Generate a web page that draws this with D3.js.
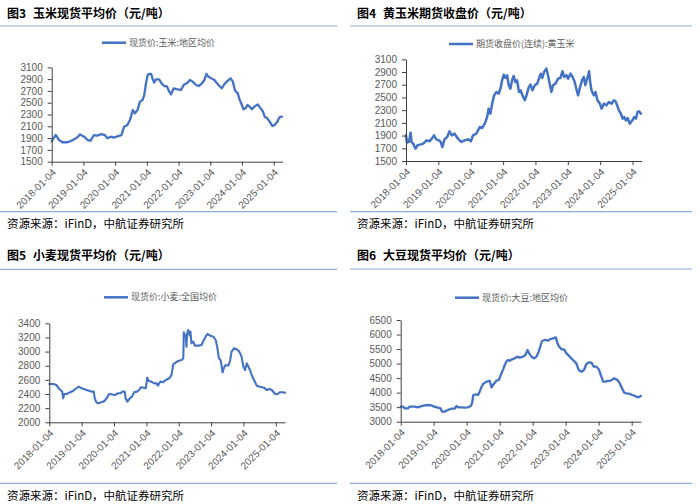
<!DOCTYPE html>
<html><head><meta charset="utf-8">
<script src="https://cdn.jsdelivr.net/npm/d3@7"></script>
<style>body{margin:0;background:#fff}svg{display:block}</style>
</head><body>
<svg id="c" width="700" height="504"></svg>
<script>
// ---------- DATA ----------
const xTickLabels = ["2018-01-04","2019-01-04","2020-01-04","2021-01-04","2022-01-04","2023-01-04","2024-01-04","2025-01-04"];
const xDomain = ["2018-01-04","2025-04-17"];

const cornSpotTicks = [1500,1700,1900,2100,2300,2500,2700,2900,3100];
const cornFutTicks = [1500,1700,1900,2100,2300,2500,2700,2900,3100];
const wheatTicks = [2000,2200,2400,2600,2800,3000,3200,3400];
const soyTicks = [3000,3500,4000,4500,5000,5500,6000,6500];

const cornSpotDates = ["2018-01-04","2018-01-12","2018-02-20","2018-03-28","2018-05-06","2018-07-03","2018-08-11","2018-09-19","2018-10-27","2018-11-27","2019-01-13","2019-02-21","2019-03-28","2019-05-06","2019-06-14","2019-07-30","2019-09-07","2019-10-07","2019-11-16","2019-12-24","2020-02-09","2020-03-17","2020-04-17","2020-05-25","2020-06-26","2020-07-26","2020-08-19","2020-09-19","2020-10-16","2020-11-16","2020-12-05","2020-12-25","2021-01-13","2021-02-02","2021-02-21","2021-03-10","2021-03-29","2021-04-18","2021-05-25","2021-06-22","2021-07-22","2021-08-23","2021-09-19","2021-10-09","2021-11-09","2021-12-25","2022-02-02","2022-03-03","2022-04-18","2022-05-15","2022-06-15","2022-07-24","2022-08-24","2022-10-01","2022-10-28","2022-11-21","2022-12-13","2023-01-13","2023-02-21","2023-03-22","2023-04-19","2023-05-16","2023-06-16","2023-07-25","2023-08-25","2023-09-21","2023-10-17","2023-11-17","2023-12-07","2024-01-03","2024-01-22","2024-02-15","2024-03-07","2024-04-01","2024-04-27","2024-05-27","2024-07-04","2024-08-06","2024-09-02","2024-09-21","2024-10-21","2024-11-18","2024-12-18","2025-01-14","2025-02-14","2025-03-11","2025-04-08"];
const cornSpotValues = [1850,1867,1955,1870,1830,1830,1850,1878,1913,1963,1924,1867,1856,1952,1941,1969,1952,1896,1924,1907,1935,1952,2094,2122,2218,2376,2320,2376,2518,2546,2631,2829,2970,2990,2990,2913,2840,2896,2896,2829,2783,2775,2687,2642,2744,2727,2716,2800,2840,2885,2857,2800,2783,2829,2885,2990,2942,2913,2885,2829,2783,2744,2817,2874,2913,2857,2704,2659,2557,2461,2388,2405,2461,2433,2388,2433,2472,2405,2348,2263,2235,2178,2105,2122,2178,2252,2263];

const cornFutDates = ["2018-01-04","2018-01-15","2018-02-07","2018-02-25","2018-03-07","2018-03-26","2018-04-22","2018-05-14","2018-06-10","2018-07-17","2018-08-24","2018-09-28","2018-10-27","2018-11-16","2018-12-12","2019-01-12","2019-01-30","2019-02-19","2019-03-15","2019-04-14","2019-05-10","2019-06-06","2019-07-06","2019-08-13","2019-09-20","2019-10-28","2019-12-05","2020-01-05","2020-01-31","2020-03-08","2020-04-15","2020-05-11","2020-06-11","2020-07-07","2020-07-25","2020-08-14","2020-09-02","2020-09-25","2020-10-21","2020-11-16","2020-12-05","2020-12-24","2021-01-12","2021-01-31","2021-02-19","2021-03-08","2021-03-27","2021-04-15","2021-05-03","2021-05-22","2021-06-10","2021-07-03","2021-07-21","2021-08-10","2021-09-06","2021-09-28","2021-10-21","2021-11-09","2021-12-01","2021-12-28","2022-01-24","2022-02-12","2022-03-04","2022-03-23","2022-04-11","2022-05-07","2022-05-25","2022-06-14","2022-07-03","2022-07-22","2022-08-18","2022-09-16","2022-10-13","2022-11-05","2022-11-24","2022-12-20","2023-01-08","2023-02-04","2023-02-27","2023-03-23","2023-04-10","2023-04-30","2023-05-18","2023-06-13","2023-07-03","2023-07-21","2023-08-10","2023-08-21","2023-09-02","2023-09-13","2023-09-28","2023-10-24","2023-11-12","2023-12-05","2024-01-02","2024-01-20","2024-02-16","2024-03-15","2024-04-11","2024-05-11","2024-06-07","2024-06-25","2024-07-14","2024-08-03","2024-08-25","2024-09-13","2024-10-01","2024-10-20","2024-11-09","2024-12-04","2025-01-02","2025-01-22","2025-02-11","2025-03-01","2025-03-19","2025-04-07"];
const cornFutValues = [1904,1788,1800,1946,1800,1773,1694,1747,1757,1773,1825,1810,1862,1904,1841,1825,1800,1720,1841,1878,1967,1904,1930,1851,1800,1825,1841,1810,1904,1930,2035,2019,2087,2192,2324,2245,2402,2533,2586,2560,2638,2769,2859,2806,2848,2691,2638,2769,2838,2743,2769,2586,2612,2533,2455,2544,2665,2701,2612,2691,2717,2796,2874,2806,2901,2953,2848,2717,2586,2691,2717,2796,2806,2911,2822,2848,2796,2874,2822,2743,2638,2533,2638,2769,2822,2691,2796,2838,2911,2743,2612,2533,2586,2455,2402,2324,2402,2376,2428,2402,2455,2439,2376,2297,2245,2166,2192,2140,2177,2087,2140,2192,2166,2271,2282,2245];

const wheatDates = ["2018-01-04","2018-02-19","2018-03-26","2018-04-14","2018-05-10","2018-05-29","2018-06-10","2018-06-21","2018-07-17","2018-08-24","2018-09-29","2018-11-05","2018-12-04","2019-01-04","2019-02-28","2019-04-25","2019-05-21","2019-06-01","2019-06-20","2019-07-07","2019-08-14","2019-09-21","2019-10-17","2019-11-09","2019-12-05","2020-01-13","2020-02-20","2020-03-16","2020-04-08","2020-05-04","2020-05-15","2020-06-04","2020-06-30","2020-07-26","2020-08-18","2020-09-21","2020-10-14","2020-11-02","2020-11-28","2020-12-28","2021-01-13","2021-02-01","2021-03-01","2021-04-01","2021-04-27","2021-05-16","2021-05-27","2021-06-11","2021-07-11","2021-08-11","2021-09-18","2021-10-14","2021-11-03","2021-11-29","2021-12-29","2022-02-05","2022-02-24","2022-03-02","2022-03-13","2022-03-24","2022-04-01","2022-04-09","2022-04-20","2022-05-09","2022-05-16","2022-05-27","2022-06-16","2022-07-04","2022-08-12","2022-09-19","2022-10-07","2022-11-03","2022-11-25","2022-12-21","2023-01-29","2023-02-25","2023-03-17","2023-04-02","2023-04-20","2023-05-02","2023-05-13","2023-05-28","2023-06-16","2023-07-16","2023-08-04","2023-08-23","2023-09-19","2023-10-19","2023-11-18","2023-12-14","2024-01-03","2024-01-22","2024-02-10","2024-02-29","2024-03-17","2024-04-06","2024-05-02","2024-06-02","2024-07-09","2024-08-24","2024-09-23","2024-10-23","2024-11-19","2024-12-27","2025-01-22","2025-02-14","2025-03-10","2025-04-17"];
const wheatValues = [2542,2542,2528,2490,2457,2434,2339,2400,2400,2424,2443,2481,2504,2481,2457,2434,2434,2339,2283,2269,2283,2302,2349,2400,2396,2387,2410,2410,2434,2434,2339,2292,2339,2363,2424,2434,2457,2495,2490,2481,2632,2584,2575,2551,2551,2518,2551,2575,2566,2599,2622,2669,2820,2844,2867,2881,2905,3273,3235,3226,3070,3259,3306,3226,3282,3117,3141,3084,3084,3094,3150,3211,3249,3226,3211,3164,3046,2905,2881,2811,2707,2764,2811,2801,2858,2999,3046,3032,2999,2929,2787,2740,2834,2787,2740,2669,2599,2518,2504,2490,2457,2471,2457,2400,2396,2424,2424,2420];

const soyDates = ["2018-01-04","2018-01-30","2018-02-18","2018-03-25","2018-04-13","2018-06-08","2018-07-14","2018-08-02","2018-09-26","2018-11-03","2018-12-09","2019-01-08","2019-02-21","2019-03-21","2019-04-06","2019-05-05","2019-06-11","2019-07-18","2019-08-25","2019-09-12","2019-09-30","2019-11-07","2019-12-14","2020-01-20","2020-02-18","2020-03-04","2020-03-18","2020-04-13","2020-05-09","2020-05-27","2020-06-15","2020-07-04","2020-08-10","2020-09-16","2020-10-05","2020-10-30","2020-11-29","2020-12-25","2021-01-16","2021-02-11","2021-03-01","2021-03-18","2021-04-06","2021-04-25","2021-05-20","2021-06-19","2021-07-18","2021-08-14","2021-09-20","2021-10-16","2021-11-08","2021-11-26","2021-12-21","2022-01-20","2022-02-15","2022-03-11","2022-03-29","2022-04-17","2022-05-17","2022-06-23","2022-07-11","2022-08-17","2022-09-17","2022-10-05","2022-10-19","2022-11-18","2022-12-17","2023-01-13","2023-02-19","2023-03-08","2023-03-26","2023-05-02","2023-05-28","2023-06-27","2023-07-26","2023-08-21","2023-09-17","2023-10-16","2023-11-11","2023-12-11","2024-01-06","2024-01-28","2024-02-23","2024-03-19","2024-04-18","2024-05-18","2024-06-20","2024-07-19","2024-08-15","2024-09-14","2024-10-13","2024-11-08","2024-12-15","2025-01-10","2025-02-09","2025-03-09","2025-04-04","2025-04-15"];
const soyValues = [3518,3518,3460,3460,3518,3518,3495,3518,3564,3575,3564,3518,3483,3460,3346,3346,3403,3449,3449,3541,3495,3495,3483,3495,3541,3632,3919,3942,3919,4034,4183,4298,4378,4401,4183,4298,4412,4435,4607,4802,4952,5066,5124,5101,5147,5181,5238,5204,5238,5296,5468,5353,5238,5181,5238,5410,5582,5777,5812,5789,5835,5869,5904,5697,5605,5491,5491,5353,5238,5181,5124,5009,4780,4722,4780,4986,5043,5032,4894,4894,4802,4607,4378,4378,4401,4412,4493,4458,4378,4183,4000,3977,3954,3919,3884,3838,3862,3884];

// ---------- DRAWING ----------
const parse = d3.timeParse("%Y-%m-%d");
const fmt = d3.timeFormat("%Y-%m-%d");
const BLUE = "#4472C4";
const AXIS = "#404040";
const LABEL = "#595959";
const SEP = "#8FAADC";
const CJK = "'Noto Sans CJK SC', sans-serif";
const LAT = "'Liberation Sans', Arial, sans-serif";

const svg = d3.select("#c");

const panels = [
  {ox:0,   sepX2:337, titleY:17.5, sepY:26,    num:"图3", title:"玉米现货平均价（元/吨）", legend:"现货价:玉米:地区均价",
   legX:102, legY:42.7, dates:cornSpotDates, values:cornSpotValues, ticks:cornSpotTicks,
   L:51.7, R:282.7, T:67.3, B:161.7, botSep:211.7, srcY:228, w:2.3},
  {ox:350, sepX2:692, titleY:17.5, sepY:26,    num:"图4", title:"黄玉米期货收盘价（元/吨）", legend:"期货收盘价(连续):黄玉米",
   legX:449, legY:44, dates:cornFutDates, values:cornFutValues, ticks:cornFutTicks,
   L:406, R:641.7, T:59.3, B:161, botSep:211.7, srcY:228, w:2.5},
  {ox:0,   sepX2:337, titleY:260, sepY:269.3, num:"图5", title:"小麦现货平均价（元/吨）", legend:"现货价:小麦:全国均价",
   legX:104, legY:297.3, dates:wheatDates, values:wheatValues, ticks:wheatTicks,
   L:49.3, R:285, T:323.3, B:422.3, botSep:483.3, srcY:500, w:2.1},
  {ox:350, sepX2:692, titleY:260, sepY:269,   num:"图6", title:"大豆现货平均价（元/吨）", legend:"现货价:大豆:地区均价",
   legX:455, legY:297.7, dates:soyDates, values:soyValues, ticks:soyTicks,
   L:400.7, R:641, T:320, B:421.7, botSep:483.3, srcY:500, w:2.3}
];

const tickDates = xTickLabels.map(parse);
const domain = xDomain.map(parse);

panels.forEach(p => {
  const g = svg.append("g");
  // title
  g.append("text").attr("x", p.ox + 7).attr("y", p.titleY)
    .attr("font-family", CJK).attr("font-weight", 700).attr("font-size", 12).attr("fill", "#000")
    .text(p.num);
  g.append("text").attr("x", p.ox + 33).attr("y", p.titleY)
    .attr("font-family", CJK).attr("font-weight", 700).attr("font-size", 12).attr("fill", "#000")
    .text(p.title);
  // separators
  g.append("line").attr("x1", p.ox).attr("x2", p.sepX2).attr("y1", p.sepY).attr("y2", p.sepY)
    .attr("stroke", SEP).attr("stroke-width", 1.2);
  g.append("line").attr("x1", p.ox).attr("x2", p.sepX2).attr("y1", p.botSep).attr("y2", p.botSep)
    .attr("stroke", SEP).attr("stroke-width", 1.2);
  // source
  g.append("text").attr("x", p.ox + 7).attr("y", p.srcY)
    .attr("font-family", CJK).attr("font-size", 11.5).attr("fill", "#000")
    .text("资源来源：iFinD，中航证券研究所");
  // legend
  g.append("line").attr("x1", p.legX).attr("x2", p.legX + 24).attr("y1", p.legY).attr("y2", p.legY)
    .attr("stroke", BLUE).attr("stroke-width", 2.5);
  g.append("text").attr("x", p.legX + 27).attr("y", p.legY).attr("dy", "0.35em")
    .attr("font-family", CJK).attr("font-size", 9).attr("fill", LABEL)
    .text(p.legend);

  // scales
  const x = d3.scaleTime().domain(domain).range([p.L, p.R]);
  const y = d3.scaleLinear().domain([p.ticks[0], p.ticks[p.ticks.length - 1]]).range([p.B, p.T]);

  // line
  const data = p.dates.map((d, i) => ({date: parse(d), v: p.values[i]}));
  g.append("path").datum(data)
    .attr("fill", "none").attr("stroke", BLUE).attr("stroke-width", p.w)
    .attr("stroke-linejoin", "round").attr("stroke-linecap", "round")
    .attr("d", d3.line().x(d => x(d.date)).y(d => y(d.v)));

  // y axis
  const ya = g.append("g").attr("transform", `translate(${p.L},0)`)
    .call(d3.axisLeft(y).tickValues(p.ticks).tickSize(4).tickSizeOuter(0).tickPadding(5).tickFormat(d3.format("d")));
  ya.select(".domain").attr("stroke", AXIS);
  ya.selectAll(".tick line").attr("stroke", AXIS);
  ya.selectAll("text").attr("font-family", LAT).attr("font-size", 10).attr("fill", LABEL);

  // x axis
  const xa = g.append("g").attr("transform", `translate(0,${p.B})`)
    .call(d3.axisBottom(x).tickValues(tickDates).tickSize(4).tickSizeOuter(0).tickFormat(fmt));
  xa.select(".domain").attr("stroke", AXIS);
  xa.selectAll(".tick line").attr("stroke", AXIS);
  xa.selectAll("text").attr("font-family", LAT).attr("font-size", 10).attr("fill", LABEL)
    .attr("x", 0).attr("y", 0).attr("dy", "0.35em")
    .attr("text-anchor", "end")
    .attr("transform", "translate(2,9) rotate(-45)");
});
</script>
</body></html>
